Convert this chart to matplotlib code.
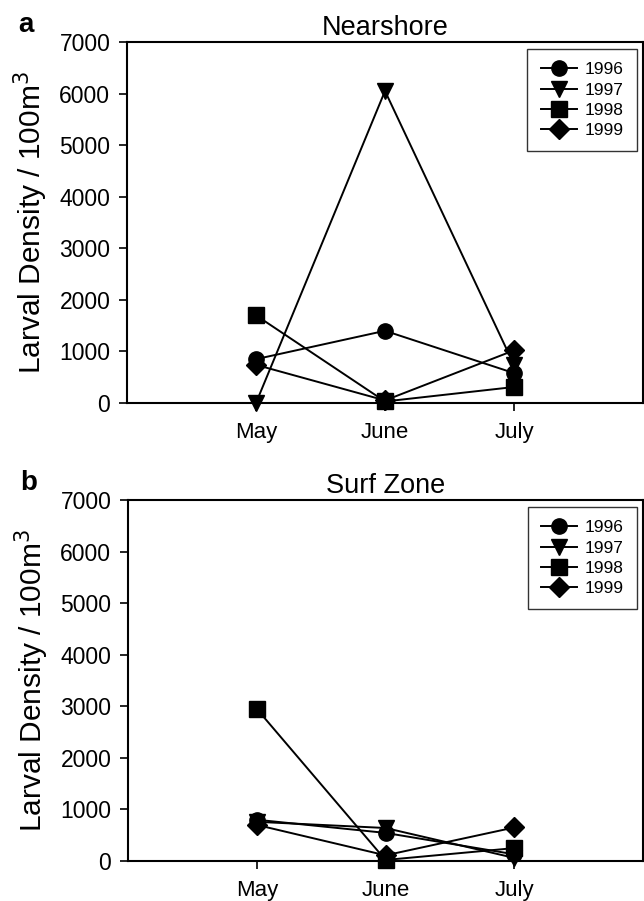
import numpy as np
import matplotlib.pyplot as plt

plt.rcParams['font.family'] = ['Liberation Sans', 'DejaVu Sans']

months = ['May', 'June', 'July']
years = ['1996', '1997', '1998', '1999']
markers = ['o', 'v', 's', 'D']

# Nearshore larval density (per 100 m^3)
near_1996 = [850, 1400, 580]
near_1997 = [0, 6050, 740]
near_1998 = [1700, 30, 310]
near_1999 = [740, 50, 1020]

# Surf zone larval density (per 100 m^3)
surf_1996 = [800, 545, 130]
surf_1997 = [760, 640, 60]
surf_1998 = [2950, 20, 250]
surf_1999 = [700, 110, 650]

W, H = 644, 901
fig = plt.figure(figsize=(W / 100, H / 100), dpi=100)

def px_axes(left, top, right, bottom):
    return fig.add_axes([left / W, 1 - bottom / H, (right - left) / W, (bottom - top) / H])

panels = [
    (px_axes(127, 42, 643, 403), 'Nearshore', 'a',
     [near_1996, near_1997, near_1998, near_1999]),
    (px_axes(128, 500, 643, 861), 'Surf Zone', 'b',
     [surf_1996, surf_1997, surf_1998, surf_1999]),
]

x = np.arange(1, len(months) + 1)
for ax, title, letter, series in panels:
    for vals, yr, mk in zip(series, years, markers):
        ms = 10 if mk == 'D' else 11
        ax.plot(x, vals, color='black', lw=1.4, marker=mk, ms=ms,
                markerfacecolor='black', markeredgecolor='black', label=yr,
                clip_on=False, zorder=3)
    ax.set_xlim(0, 4)
    ax.set_ylim(0, 7000)
    ax.set_xticks(x)
    ax.set_xticklabels(months)
    ax.set_yticks(np.arange(0, 7001, 1000))
    ax.tick_params(direction='out', length=6, width=1.2, labelsize=16.5, pad=6)
    ax.tick_params(axis='x', labelsize=16, pad=8)
    for sp in ax.spines.values():
        sp.set_linewidth(1.5)
    ax.set_title(title, fontsize=19.5, pad=5)
    ax.set_ylabel('Larval Density / 100m$^3$', fontsize=21.5, labelpad=7)
    ax.text(-0.21, 1.012, letter, transform=ax.transAxes, fontsize=20,
            fontweight='bold', ha='left', va='bottom')
    leg = ax.legend(loc='upper right', bbox_to_anchor=(0.988, 0.98), fontsize=12.5,
                    frameon=True, fancybox=False, edgecolor='black',
                    handlelength=2.1, markerscale=1.0, borderpad=0.75,
                    labelspacing=0.3, handletextpad=0.45, borderaxespad=0.0)
    leg.get_frame().set_linewidth(1.0)

fig.savefig('out.png', dpi=100)
